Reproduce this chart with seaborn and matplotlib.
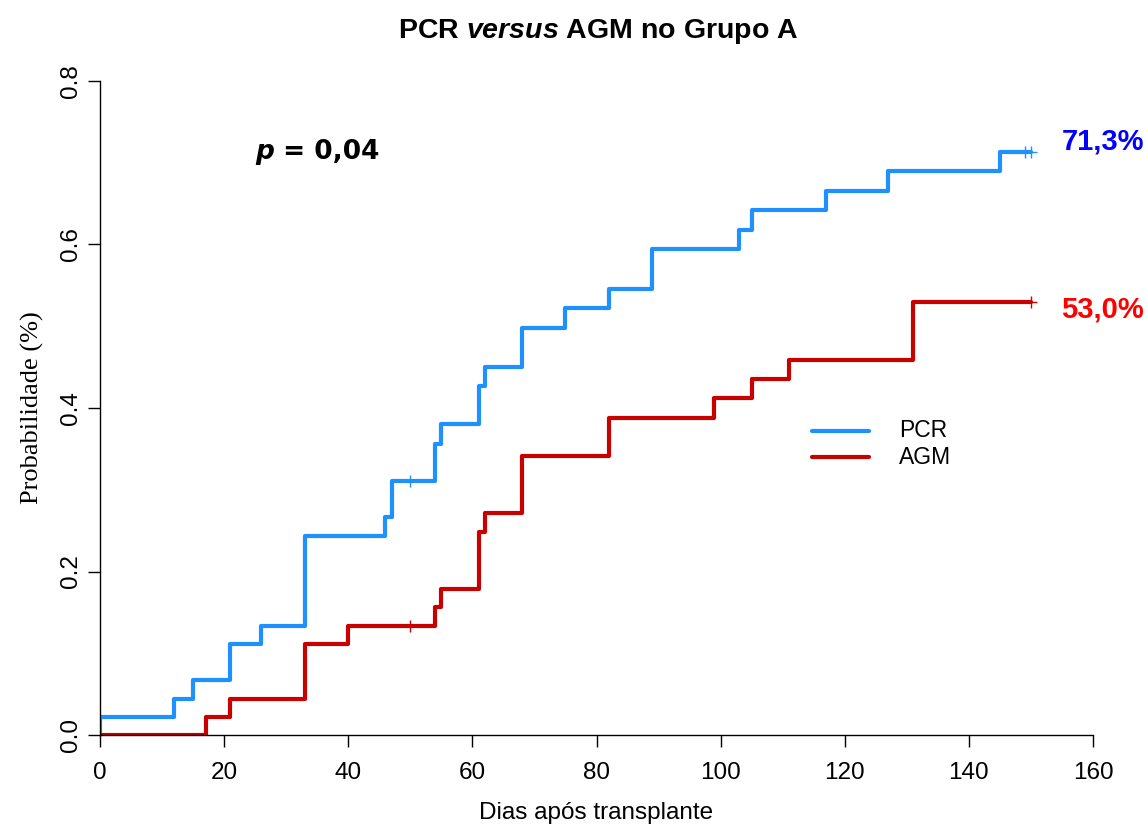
import pandas as pd
import numpy as np
import matplotlib
matplotlib.use('Agg')
import matplotlib.pyplot as plt
import seaborn as sns

# cumulative incidence curves
pcr_time = [0, 0, 12, 15, 21, 26, 33, 46, 47, 54, 55, 61, 62, 68, 75, 82, 89, 103, 105, 117, 127, 145, 150]
pcr_prob = [0, 0.022, 0.044, 0.067, 0.111, 0.133, 0.244, 0.267, 0.311, 0.356, 0.380, 0.427, 0.450,
            0.498, 0.522, 0.546, 0.594, 0.618, 0.642, 0.666, 0.690, 0.713, 0.713]
agm_time = [0, 17, 21, 33, 40, 54, 55, 61, 62, 68, 82, 99, 105, 111, 131, 150]
agm_prob = [0, 0.022, 0.044, 0.111, 0.133, 0.156, 0.178, 0.248, 0.271, 0.341, 0.388, 0.412,
            0.436, 0.459, 0.530, 0.530]

pcr_cens_time = [50, 149, 150]
pcr_cens_prob = [0.311, 0.713, 0.713]
agm_cens_time = [50, 150]
agm_cens_prob = [0.133, 0.530]

groups = ['PCR', 'AGM']
final_labels = ['71,3%', '53,0%']
x_ticks = [0, 20, 40, 60, 80, 100, 120, 140, 160]
y_ticks = [0.0, 0.2, 0.4, 0.6, 0.8]

line_colors = {'PCR': '#1E90FF', 'AGM': '#C80000'}
text_colors = ['#0000FF', '#FF0000']

df = pd.concat([
    pd.DataFrame({'time': pcr_time, 'prob': pcr_prob, 'grupo': 'PCR'}),
    pd.DataFrame({'time': agm_time, 'prob': agm_prob, 'grupo': 'AGM'}),
], ignore_index=True)

sns.set_style('ticks')
plt.rcParams['font.family'] = ['Liberation Sans', 'DejaVu Sans']
plt.rcParams['text.color'] = 'black'
plt.rcParams['axes.labelcolor'] = 'black'
plt.rcParams['xtick.color'] = 'black'
plt.rcParams['ytick.color'] = 'black'
plt.rcParams['mathtext.fontset'] = 'custom'
plt.rcParams['mathtext.bfit'] = 'Liberation Sans:italic:bold'

fig = plt.figure(figsize=(11.46, 8.26), dpi=100)
ax = fig.add_axes([100 / 1146, 91 / 826, 993 / 1146, 654 / 826])

sns.lineplot(data=df, x='time', y='prob', hue='grupo', palette=line_colors,
             estimator=None, sort=False, drawstyle='steps-post', linewidth=3,
             legend=False, ax=ax)

ax.plot(pcr_cens_time, pcr_cens_prob, '+', color=line_colors['PCR'], ms=9, mew=1)
ax.plot(agm_cens_time, agm_cens_prob, '+', color=line_colors['AGM'], ms=9, mew=1)

ax.set_xlim(0, 160)
ax.set_ylim(0, 0.8)
ax.set_xticks(x_ticks)
ax.set_xticklabels([str(t) for t in x_ticks])
ax.set_yticks(y_ticks)
ax.set_yticklabels([f'{t:.1f}' for t in y_ticks], rotation=90, va='center')
ax.tick_params(axis='both', length=8.6, width=1, labelsize=17.5)
ax.tick_params(axis='x', pad=11)
ax.tick_params(axis='y', pad=4)
for s in ['top', 'right']:
    ax.spines[s].set_visible(False)
for s in ['left', 'bottom']:
    ax.spines[s].set_linewidth(1)
    ax.spines[s].set_color('black')

ax.set_xlabel('Dias após transplante', fontsize=17.5, labelpad=13)
ax.set_ylabel('Probabilidade (%)', fontsize=19, family='Liberation Serif', labelpad=12)

fig.text(598 / 1146, 1 - 31 / 826, r'PCR $\bfit{versus}$ AGM no Grupo A', ha='center', va='center',
         fontsize=20.5, fontweight='bold')

pt = ax.text(25, 0.705, 'p', fontsize=19, family='DejaVu Sans', fontweight='bold', style='italic',
             ha='left', va='baseline')
ax.annotate(' = 0,04', xy=(1, 0), xycoords=pt, fontsize=19, family='DejaVu Sans', fontweight='bold',
            ha='left', va='bottom')

# final percentage labels
for lab, col, yv in zip(final_labels, text_colors, [0.7266, 0.521]):
    ax.text(154.9, yv, lab, color=col, fontsize=21, fontweight='bold',
            ha='left', va='center', clip_on=False)

# legend
for i, g in enumerate(groups):
    yv = 0.372 - i * 0.032
    ax.plot([114.8, 123.9], [yv, yv], color=line_colors[g], lw=3)
    ax.text(128.7, yv, g, fontsize=16.5, ha='left', va='center')

plt.savefig('out.png', dpi=100)
